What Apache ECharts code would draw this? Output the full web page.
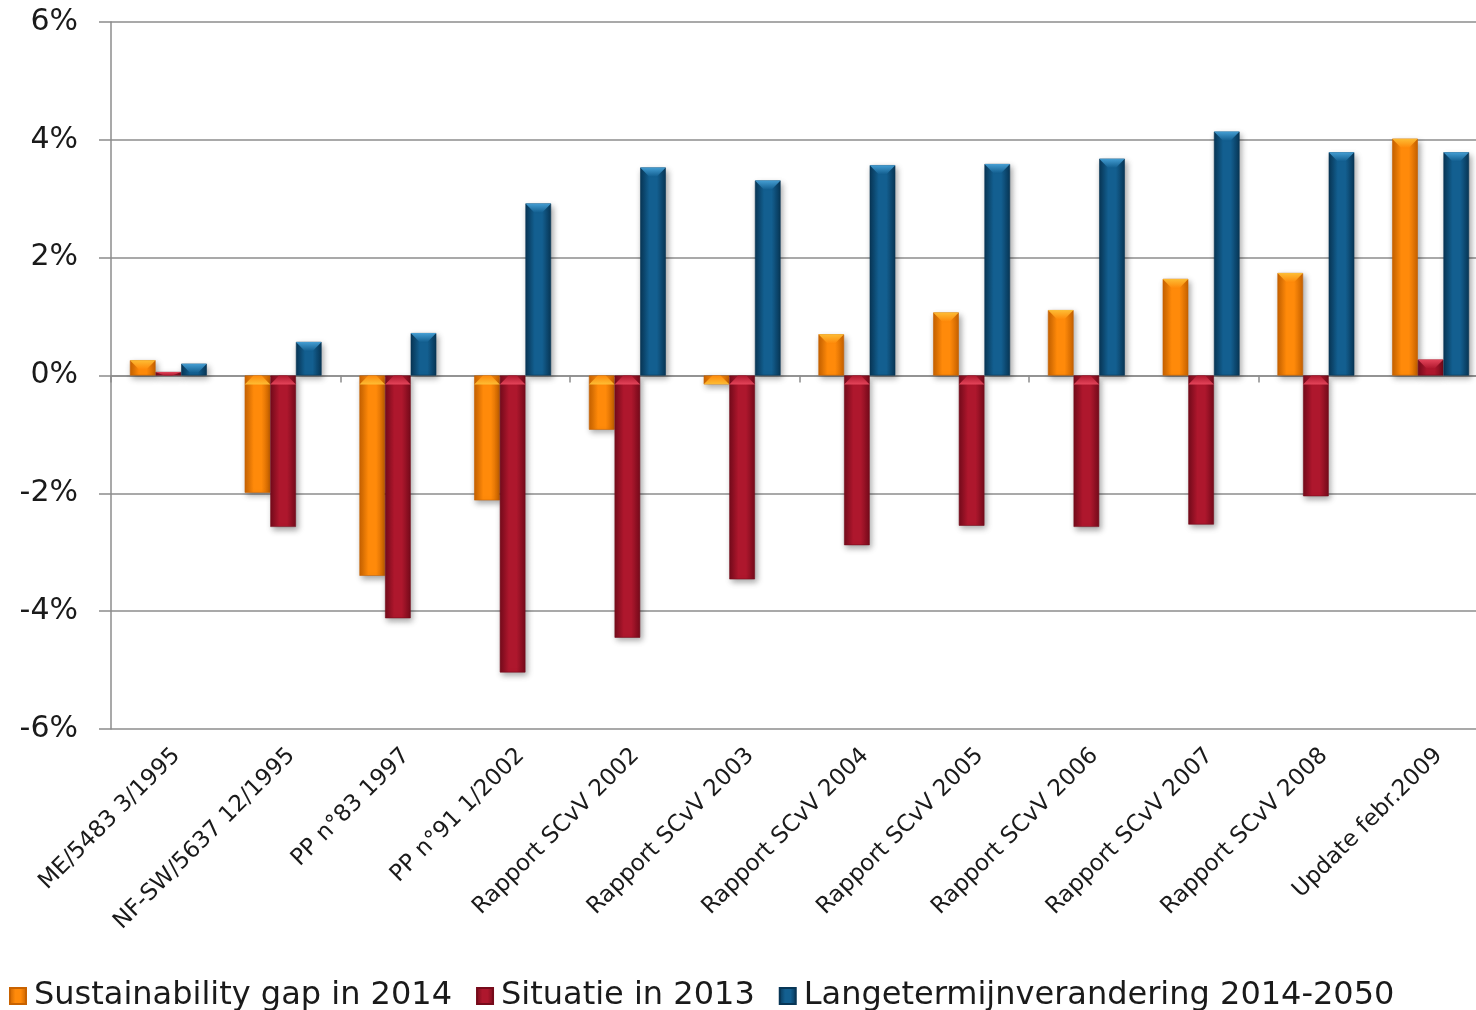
<!DOCTYPE html>
<html>
<head>
<meta charset="utf-8">
<script src="https://cdn.jsdelivr.net/npm/echarts@6/dist/echarts.min.js"></script>
<style>
  html, body { margin: 0; padding: 0; background: #ffffff; overflow: hidden; }
  /* the plot area runs slightly past the right edge of the page */
  #chart { width: 1490px; height: 1010px; }
</style>
</head>
<body>
<div id="chart"></div>
<script>
// Reports and their estimates (percent of GDP)
const categories = [
  'ME/5483 3/1995', 'NF-SW/5637 12/1995', 'PP n°83 1997', 'PP n°91 1/2002',
  'Rapport SCvV 2002', 'Rapport SCvV 2003', 'Rapport SCvV 2004', 'Rapport SCvV 2005',
  'Rapport SCvV 2006', 'Rapport SCvV 2007', 'Rapport SCvV 2008', 'Update febr.2009'
];
const seriesNames = ['Sustainability gap in 2014', 'Situatie in 2013', 'Langetermijnverandering 2014-2050'];
const sustainabilityGap = [0.26, -1.99, -3.40, -2.12, -0.92, -0.15, 0.70, 1.07, 1.11, 1.64, 1.74, 4.02];
const situatie2013      = [0.06, -2.57, -4.12, -5.04, -4.45, -3.46, -2.88, -2.55, -2.57, -2.53, -2.05, 0.27];
const langeTermijn      = [0.20, 0.57, 0.72, 2.92, 3.53, 3.31, 3.57, 3.59, 3.68, 4.14, 3.79, 3.79];
const yTicks = { min: -6, max: 6, step: 2 };

const FONT = 'DejaVu Sans';

// Bar palettes: edge, centre, bevel highlight
const palettes = [
  { edge: '#c86200', mid: '#ff8a0a', light: '#ffc43a' },
  { edge: '#760b1b', mid: '#ae172d', light: '#ec4a60' },
  { edge: '#083656', mid: '#135f90', light: '#4aa6dc' }
];

function bodyGradient(p) {
  return new echarts.graphic.LinearGradient(0, 0, 1, 0, [
    { offset: 0, color: p.edge },
    { offset: 0.35, color: p.mid },
    { offset: 0.65, color: p.mid },
    { offset: 1, color: p.edge }
  ]);
}
function bevelGradient(p) {
  return new echarts.graphic.LinearGradient(0, 0, 0, 1, [
    { offset: 0, color: p.light },
    { offset: 1, color: p.mid }
  ]);
}

const datasets = [sustainabilityGap, situatie2013, langeTermijn];
const BAR_GAP = '0%';
const CAT_GAP = '33%';
const bevelPath = 'path://M0,0 L26,0 L17,9 L9,9 Z';

const series = [];
datasets.forEach((vals, i) => {
  const p = palettes[i];
  series.push({
    name: seriesNames[i],
    type: 'bar',
    data: vals,
    barGap: BAR_GAP,
    barCategoryGap: CAT_GAP,
    itemStyle: {
      color: bodyGradient(p),
      borderColor: p.edge,
      borderWidth: 0.6,
      shadowColor: 'rgba(0,0,0,0.35)',
      shadowBlur: 6,
      shadowOffsetX: 2,
      shadowOffsetY: 3
    },
    z: 2
  });
});
// Bevelled caps on the upper face of every bar
datasets.forEach((vals, i) => {
  const p = palettes[i];
  series.push({
    name: seriesNames[i] + ' cap',
    type: 'pictorialBar',
    barGap: BAR_GAP,
    barCategoryGap: CAT_GAP,
    data: vals.map(v => ({
      value: v,
      symbol: bevelPath,
      symbolPosition: v >= 0 ? 'end' : 'start',
      symbolSize: ['100%', Math.min(9, Math.abs(v) * 58.9)]
    })),
    symbolRepeat: false,
    itemStyle: { color: bevelGradient(p), opacity: 0.9 },
    silent: true,
    z: 3
  });
});

const chart = echarts.init(document.getElementById('chart'), null, { renderer: 'canvas' });
chart.setOption({
  animation: false,
  backgroundColor: '#ffffff',
  textStyle: { fontFamily: FONT },
  grid: { left: 111, top: 22, right: 2, bottom: 281, containLabel: false },
  legend: {
    data: seriesNames,
    left: 4,
    top: 975,
    itemWidth: 16,
    itemHeight: 16,
    itemGap: 24,
    icon: 'rect',
    textStyle: { fontFamily: FONT, fontSize: 32, color: '#1a1a1a', padding: [0, 0, 0, 3] }
  },
  xAxis: [
    {
      type: 'category',
      data: categories,
      position: 'bottom',
      axisLine: { show: false, onZero: false },
      axisTick: { show: false },
      axisLabel: {
        rotate: 45,
        margin: 15,
        verticalAlign: 'top',
        fontFamily: FONT,
        fontSize: 23,
        color: '#1a1a1a',
        interval: 0
      }
    },
    {
      type: 'category',
      data: categories,
      position: 'bottom',
      axisLine: { show: true, onZero: true, lineStyle: { color: '#8c8c8c', width: 1.5 } },
      axisTick: { show: true, length: 7, lineStyle: { color: '#8c8c8c', width: 1.5 } },
      axisLabel: { show: false }
    }
  ],
  yAxis: {
    type: 'value',
    min: yTicks.min,
    max: yTicks.max,
    interval: yTicks.step,
    axisLine: { show: true, lineStyle: { color: '#8c8c8c', width: 1.5 } },
    axisTick: { show: true, length: 12, lineStyle: { color: '#8c8c8c', width: 1.5 } },
    splitLine: { show: true, lineStyle: { color: '#8c8c8c', width: 1.5 } },
    axisLabel: {
      formatter: v => v + '%',
      margin: 33,
      fontFamily: FONT,
      fontSize: 30,
      color: '#1a1a1a'
    }
  },
  series: series
});
</script>
</body>
</html>
